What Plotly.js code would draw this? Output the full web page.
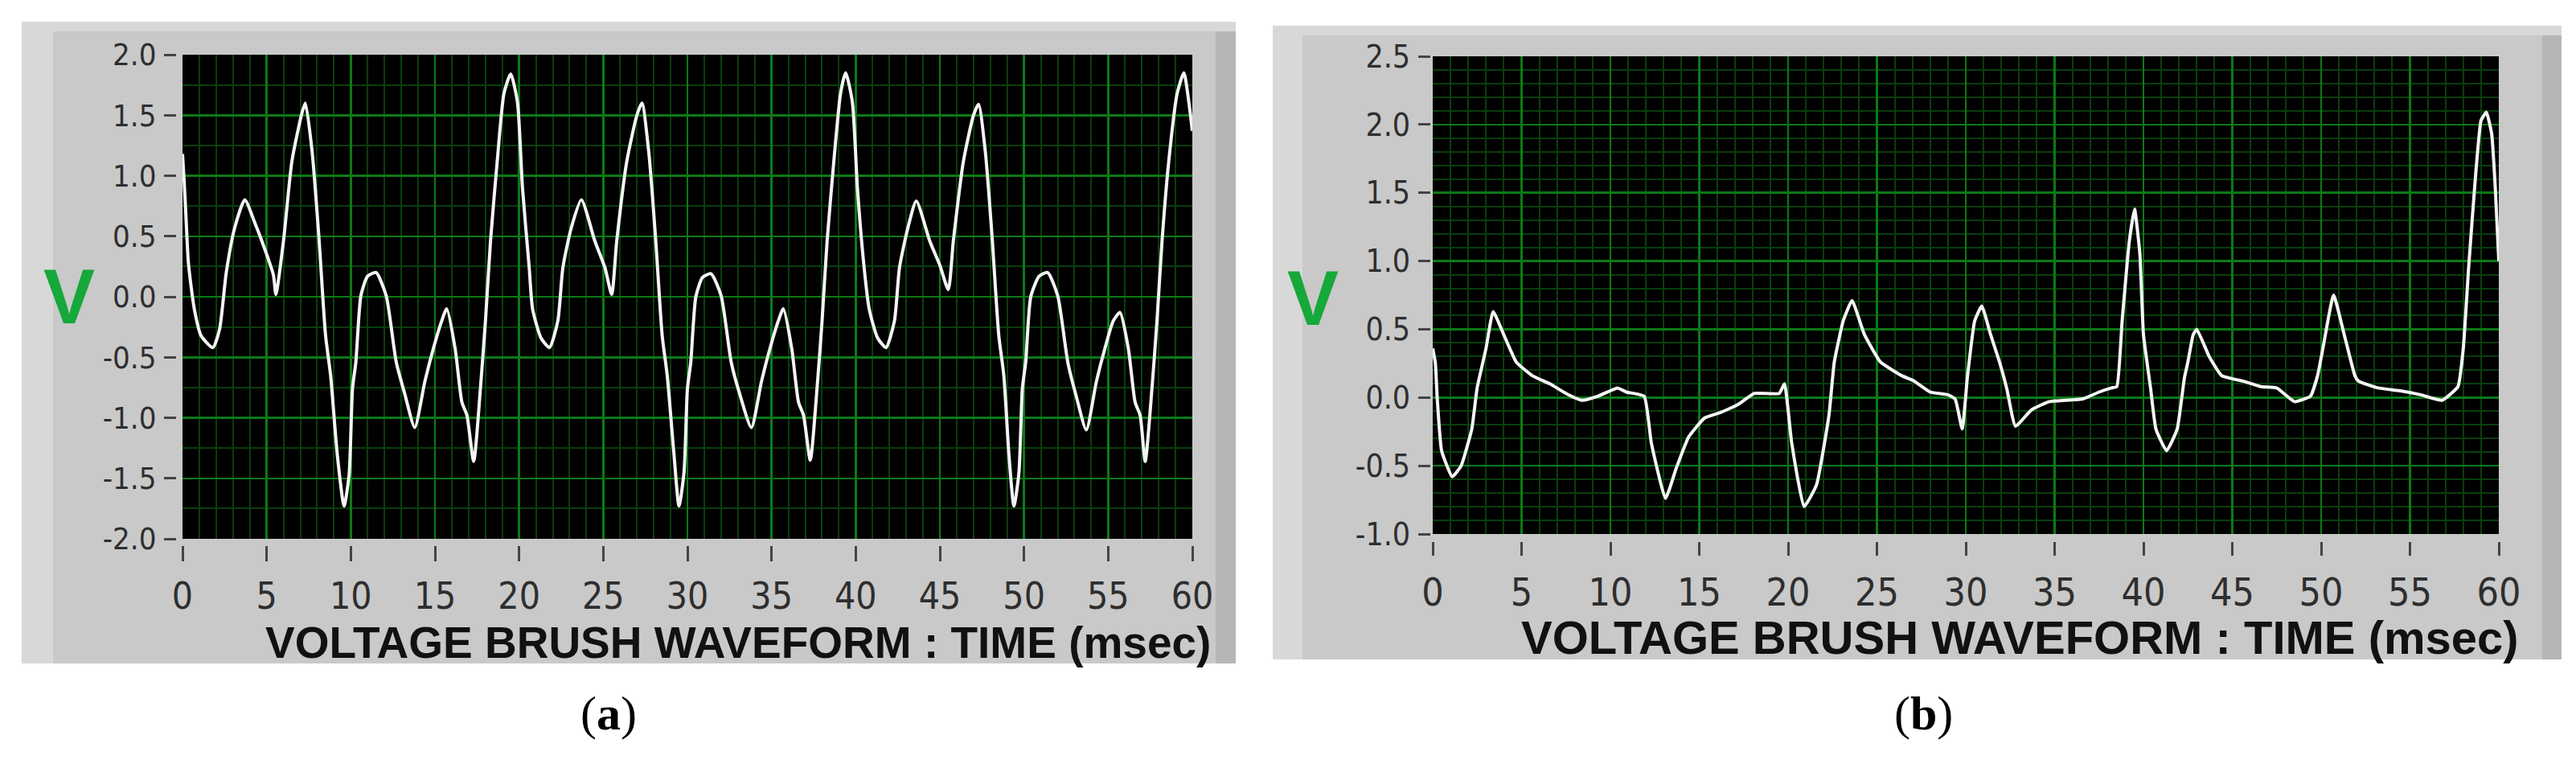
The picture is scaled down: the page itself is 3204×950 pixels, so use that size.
<!DOCTYPE html>
<html>
<head>
<meta charset="utf-8">
<script src="https://cdn.plot.ly/plotly-3.0.1.min.js"></script>
<style>
html,body{margin:0;padding:0;background:#fff;}
#chart{width:3204px;height:950px;}
</style>
</head>
<body>
<div id="chart"></div>
<script>
// ---------- DATA ----------
// Panel (a): time (msec) and voltage (V)
const timeA = [0.0,0.1,0.2,0.35,0.7,1.1,1.8,2.2,2.6,3.1,3.7,4.3,5.0,5.4,5.55,6.0,6.5,7.1,7.3,7.7,8.1,8.5,8.8,9.2,9.6,9.9,10.1,10.3,10.6,11.0,11.5,12.1,12.7,13.2,13.8,14.4,14.9,15.4,15.7,16.2,16.6,16.9,17.3,17.7,18.0,18.3,18.7,19.1,19.5,
  19.9,20.2,20.6,20.8,21.3,21.8,22.3,22.6,23.1,23.7,24.5,25.1,25.5,25.8,26.4,27.0,27.3,27.7,28.1,28.5,28.8,29.2,29.5,29.8,30.0,30.2,30.5,30.9,31.4,32.0,32.6,33.1,33.8,34.4,34.9,35.4,35.7,36.2,36.6,36.9,37.3,37.7,38.0,38.3,38.7,39.1,39.4,
  39.8,40.1,40.5,40.8,41.3,41.8,42.3,42.6,43.1,43.6,44.4,45.0,45.5,45.8,46.4,47.0,47.3,47.7,48.1,48.5,48.8,49.1,49.4,49.7,49.9,50.1,50.4,50.9,51.4,52.0,52.6,53.1,53.7,54.3,54.8,55.3,55.7,56.2,56.6,56.9,57.2,57.6,57.9,58.2,58.6,59.1,59.5,59.8,60.0];
const voltA = [1.18,0.95,0.68,0.28,-0.1,-0.32,-0.42,-0.27,0.2,0.57,0.80,0.61,0.35,0.18,0.02,0.46,1.12,1.52,1.60,1.2,0.5,-0.32,-0.65,-1.31,-1.73,-1.47,-0.76,-0.54,0.01,0.17,0.20,0.01,-0.54,-0.80,-1.08,-0.7,-0.43,-0.2,-0.1,-0.43,-0.87,-0.98,-1.36,-0.76,-0.2,0.46,1.12,1.68,1.84,
  1.61,0.9,0.24,-0.1,-0.34,-0.42,-0.2,0.24,0.57,0.80,0.46,0.24,0.02,0.46,1.12,1.5,1.60,1.2,0.5,-0.32,-0.65,-1.3,-1.73,-1.45,-0.76,-0.54,0.0,0.16,0.19,0.01,-0.54,-0.8,-1.08,-0.7,-0.43,-0.2,-0.1,-0.43,-0.87,-0.98,-1.35,-0.76,-0.2,0.46,1.12,1.68,1.85,
  1.61,0.9,0.24,-0.1,-0.34,-0.42,-0.2,0.24,0.57,0.79,0.46,0.26,0.06,0.46,1.12,1.5,1.59,1.2,0.5,-0.32,-0.65,-1.3,-1.73,-1.45,-0.76,-0.54,0.0,0.17,0.20,0.01,-0.54,-0.82,-1.10,-0.7,-0.43,-0.2,-0.13,-0.43,-0.87,-0.98,-1.36,-0.76,-0.2,0.46,1.12,1.68,1.85,1.6,1.37];

// Panel (b): time (msec) and voltage (V)
const timeB = [0.0,0.15,0.25,0.5,1.1,1.6,2.2,2.5,3.0,3.4,4.0,4.7,5.6,6.6,7.5,8.4,9.3,10.4,10.9,11.9,12.3,13.1,13.7,14.4,15.3,16.2,17.2,18.1,19.5,19.8,20.2,20.9,21.6,22.3,22.6,23.1,23.6,24.3,25.2,26.4,27.1,28.0,29.0,29.4,29.8,30.1,30.5,30.9,31.4,31.9,32.3,32.8,33.7,34.7,35.6,36.6,37.5,38.2,38.5,38.8,39.2,39.5,39.8,40.0,40.4,40.7,41.3,41.9,42.3,42.5,42.8,43.0,43.7,44.4,45.6,46.6,47.5,48.5,49.4,49.8,50.1,50.7,51.3,51.9,52.1,53.2,54.4,55.6,56.8,57.7,58.0,58.3,58.7,59.0,59.3,59.6,59.8,60.0];
const voltB = [0.36,0.25,0.0,-0.39,-0.58,-0.5,-0.23,0.07,0.36,0.63,0.46,0.26,0.16,0.10,0.03,-0.02,0.01,0.07,0.04,0.01,-0.33,-0.74,-0.52,-0.29,-0.15,-0.11,-0.05,0.03,0.03,0.10,-0.33,-0.80,-0.64,-0.13,0.26,0.56,0.71,0.46,0.26,0.16,0.12,0.04,0.02,-0.01,-0.23,0.16,0.56,0.67,0.46,0.26,0.07,-0.21,-0.09,-0.03,-0.02,-0.01,0.04,0.07,0.08,0.56,1.14,1.38,1.05,0.46,0.07,-0.23,-0.39,-0.23,0.14,0.26,0.46,0.50,0.30,0.16,0.12,0.08,0.07,-0.03,0.01,0.16,0.36,0.75,0.46,0.16,0.12,0.07,0.05,0.02,-0.02,0.08,0.36,0.95,1.64,2.03,2.09,1.93,1.54,1.0];

// Tick values / labels
const xTickVals = [0,5,10,15,20,25,30,35,40,45,50,55,60];
const xTickText = ["0","5","10","15","20","25","30","35","40","45","50","55","60"];
const yTickValsA = [-2.0,-1.5,-1.0,-0.5,0.0,0.5,1.0,1.5,2.0];
const yTickTextA = ["-2.0","-1.5","-1.0","-0.5","0.0","0.5","1.0","1.5","2.0"];
const yTickValsB = [-1.0,-0.5,0.0,0.5,1.0,1.5,2.0,2.5];
const yTickTextB = ["-1.0","-0.5","0.0","0.5","1.0","1.5","2.0","2.5"];

const axisTitle = "VOLTAGE BRUSH WAVEFORM : TIME (msec)";
const unitLabel = "V";
const panelLabels = ["(<b>a</b>)", "(<b>b</b>)"];

// ---------- LAYOUT HELPERS ----------
const W = 3204, H = 950;
const px = x => x / W;
const py = y => 1 - y / H;

const tickFamily = "Liberation Sans Narrow, DejaVu Sans Condensed, Liberation Sans, sans-serif";
const majorGrid = "#0c7a16";
const minorGrid = "#083f0c";

function xAxis(l, r, posY, tlen, fsize) {
  return {
    domain: [px(l), px(r)], range: [0, 60], anchor: "free", position: py(posY),
    tickmode: "array", tickvals: xTickVals, ticktext: xTickText,
    ticks: "outside", ticklen: tlen, tickwidth: 3, tickcolor: "#444",
    tickfont: {family: tickFamily, size: fsize, color: "#2e2e2e"},
    ticklabelstandoff: 4,
    showgrid: true, gridcolor: majorGrid, gridwidth: 2.5,
    minor: {dtick: 1, showgrid: true, gridcolor: minorGrid, gridwidth: 2, ticks: ""},
    zeroline: false, showline: false, fixedrange: true
  };
}
function yAxis(t, b, lo, hi, vals, text, posX, tlen, fsize, minorStep) {
  return {
    domain: [py(b), py(t)], range: [lo, hi], anchor: "free", position: px(posX),
    tickmode: "array", tickvals: vals, ticktext: text,
    ticks: "outside", ticklen: tlen, tickwidth: 3, tickcolor: "#444",
    tickfont: {family: tickFamily, size: fsize, color: "#2e2e2e"},
    ticklabelstandoff: 2,
    showgrid: true, gridcolor: majorGrid, gridwidth: 2.5,
    minor: {dtick: minorStep, showgrid: true, gridcolor: minorGrid, gridwidth: 2, ticks: ""},
    zeroline: false, showline: false, fixedrange: true
  };
}

function rect(x0, y0, x1, y1, color) {
  return {type: "rect", xref: "paper", yref: "paper", x0: px(x0), x1: px(x1), y0: py(y1), y1: py(y0),
          fillcolor: color, line: {width: 0}, layer: "below"};
}

const shapes = [
  // panel (a) bezel
  rect(27, 27, 1537, 825, "#d8d8d8"),
  rect(66, 39, 1537, 825, "#c9c9c9"),
  rect(1512, 39, 1537, 825, "#b6b6b6"),
  // panel (b) bezel
  rect(1583, 32, 3186, 820, "#d8d8d8"),
  rect(1620, 44, 3186, 820, "#c9c9c9"),
  rect(3162, 44, 3186, 820, "#b6b6b6"),
  // black plot areas
  {type: "rect", xref: "x domain", yref: "y domain", x0: 0, x1: 1, y0: 0, y1: 1, fillcolor: "#000", line: {width: 0}, layer: "below"},
  {type: "rect", xref: "x2 domain", yref: "y2 domain", x0: 0, x1: 1, y0: 0, y1: 1, fillcolor: "#000", line: {width: 0}, layer: "below"}
];

const vFont = {family: "Liberation Sans Narrow, Liberation Sans, Arial, sans-serif", size: 96, color: "#16a83a", weight: "bold"};
const titleFontA = {family: "Liberation Sans, Arial, sans-serif", size: 55, color: "#111", weight: "bold"};
const titleFontB = {family: "Liberation Sans, Arial, sans-serif", size: 58, color: "#111", weight: "bold"};
const labFont = {family: "Liberation Serif, DejaVu Serif, serif", size: 60, color: "#000"};

const annotations = [
  {text: unitLabel, x: px(86), y: py(368), xref: "paper", yref: "paper", showarrow: false, font: vFont, xanchor: "center", yanchor: "middle"},
  {text: unitLabel, x: px(1633), y: py(370), xref: "paper", yref: "paper", showarrow: false, font: vFont, xanchor: "center", yanchor: "middle"},
  {text: axisTitle, x: px(918), y: py(799), xref: "paper", yref: "paper", showarrow: false, font: titleFontA, xanchor: "center", yanchor: "middle"},
  {text: axisTitle, x: px(2512), y: py(792), xref: "paper", yref: "paper", showarrow: false, font: titleFontB, xanchor: "center", yanchor: "middle"},
  {text: panelLabels[0], x: px(757), y: py(887), xref: "paper", yref: "paper", showarrow: false, font: labFont, xanchor: "center", yanchor: "middle"},
  {text: panelLabels[1], x: px(2392), y: py(887), xref: "paper", yref: "paper", showarrow: false, font: labFont, xanchor: "center", yanchor: "middle"}
];

const traces = [
  {x: timeA, y: voltA, xaxis: "x", yaxis: "y", type: "scatter", mode: "lines",
   line: {color: "#f4f4f4", width: 4, shape: "spline", smoothing: 0.6}, hoverinfo: "skip"},
  {x: timeB, y: voltB, xaxis: "x2", yaxis: "y2", type: "scatter", mode: "lines",
   line: {color: "#f4f4f4", width: 4, shape: "spline", smoothing: 0.4}, hoverinfo: "skip"}
];

const layout = {
  width: W, height: H,
  margin: {l: 0, r: 0, t: 0, b: 0, pad: 0},
  paper_bgcolor: "#ffffff", plot_bgcolor: "#000000",
  showlegend: false,
  xaxis: xAxis(227, 1483, 678, 19, 46),
  yaxis: yAxis(68, 670, -2, 2, yTickValsA, yTickTextA, 219, 15, 38, 0.25),
  xaxis2: xAxis(1782, 3108, 673, 17, 48),
  yaxis2: yAxis(70, 664, -1, 2.5, yTickValsB, yTickTextB, 1779, 15, 39, 0.1),
  shapes: shapes,
  annotations: annotations
};

Plotly.newPlot("chart", traces, layout, {displayModeBar: false, staticPlot: true});
</script>
</body>
</html>
